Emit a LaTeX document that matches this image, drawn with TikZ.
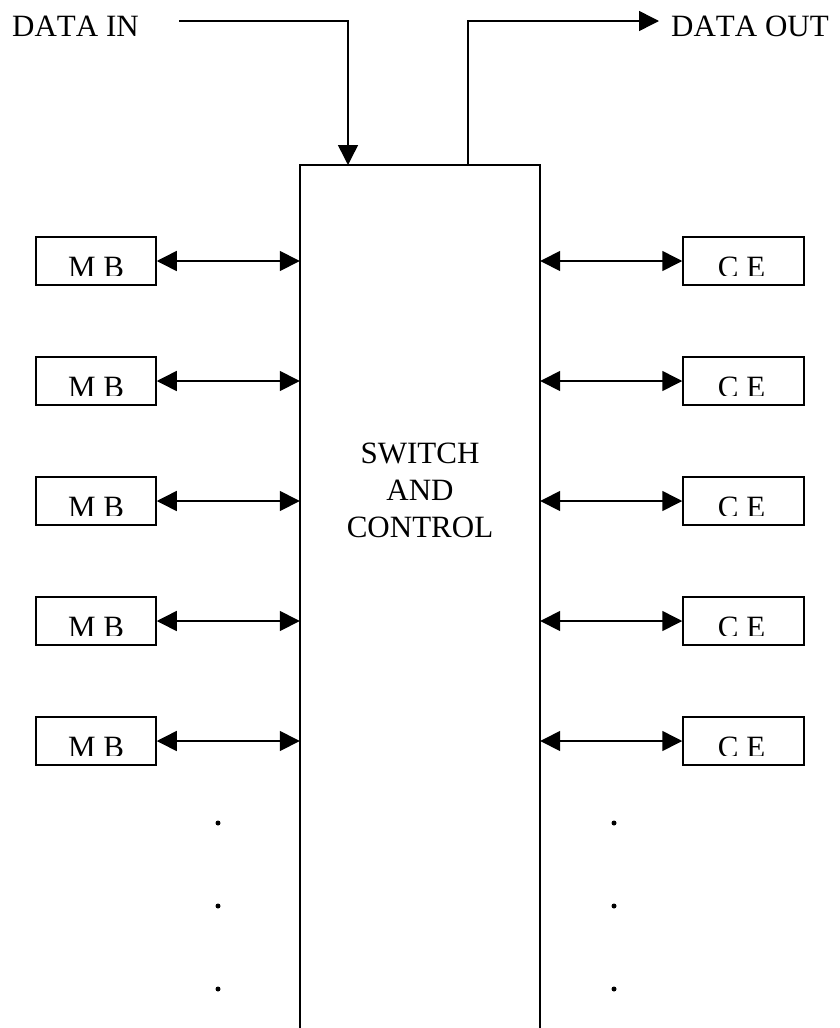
\documentclass[tikz,border=0pt]{standalone}
\usepackage{fontspec}
\setmainfont{Liberation Serif}[Kerning=Off]
\usetikzlibrary{arrows.meta}

\begin{document}
\begin{tikzpicture}[x=1pt, y=-1pt,
    font=\fontsize{31}{37}\selectfont,
    >={Triangle[length=20pt, width=20pt]},
    line/.style={line width=1.5pt},
    frame/.style={line width=2pt},
    unit/.style={draw, line width=1.5pt, minimum width=120pt, minimum height=48pt, inner sep=0pt},
    tag/.style={inner sep=0pt}]
            \useasboundingbox (0,0) rectangle (839,1028);

            % Switch and control block (open at the bottom)
            \node[inner sep=0pt, minimum width=240pt, minimum height=863pt] (sw) at (420,596.5) {};
            \draw[frame] (sw.south west) |- (sw.north east) -- (sw.south east);
            \node[tag, align=center] (swlabel) at (420,490) {SWITCH\\AND\\CONTROL};

            % Data in
            \node[tag, anchor=base west] (din) at (12,36) {DATA IN};
            \coordinate (inbeg) at (179,21);
            \coordinate (inend) at (348,165);
            \draw[line, ->] (inbeg) -| (inend);

            % Data out
            \coordinate (outbeg) at (468,165);
            \coordinate (outend) at (659,21);
            \draw[line, ->] (outbeg) |- (outend);
            \node[tag, anchor=base west] (dout) at (671,36) {DATA OUT};

            % M B and C E units
            \foreach \i in {0,...,4}{
                \node[unit] (mb\i) at (96,261+120*\i) {};
                \node[unit, minimum width=121pt] (ce\i) at (743.5,261+120*\i) {};
                \begin{scope}
                    \clip (mb\i.north west) rectangle ([yshift=10pt]mb\i.south east);
                    \node[tag, anchor=base] (mbt\i) at ([yshift=8pt]mb\i.south) {M B};
                \end{scope}
                \begin{scope}
                    \clip (ce\i.north west) rectangle ([yshift=10pt]ce\i.south east);
                    \node[tag, anchor=base] (cet\i) at ([xshift=-2pt, yshift=8pt]ce\i.south) {C E};
                \end{scope}
                \draw[line, <->] (mb\i.east) -- (mb\i.east -| sw.west);
                \draw[line, <->] (sw.east |- ce\i.west) -- (ce\i.west);
            }

            % Dots
            \foreach \y in {823,906,989}{
                \fill (218,\y) circle (2.5pt);
                \fill (614,\y) circle (2.5pt);
            }
        \end{tikzpicture}
\end{document}
